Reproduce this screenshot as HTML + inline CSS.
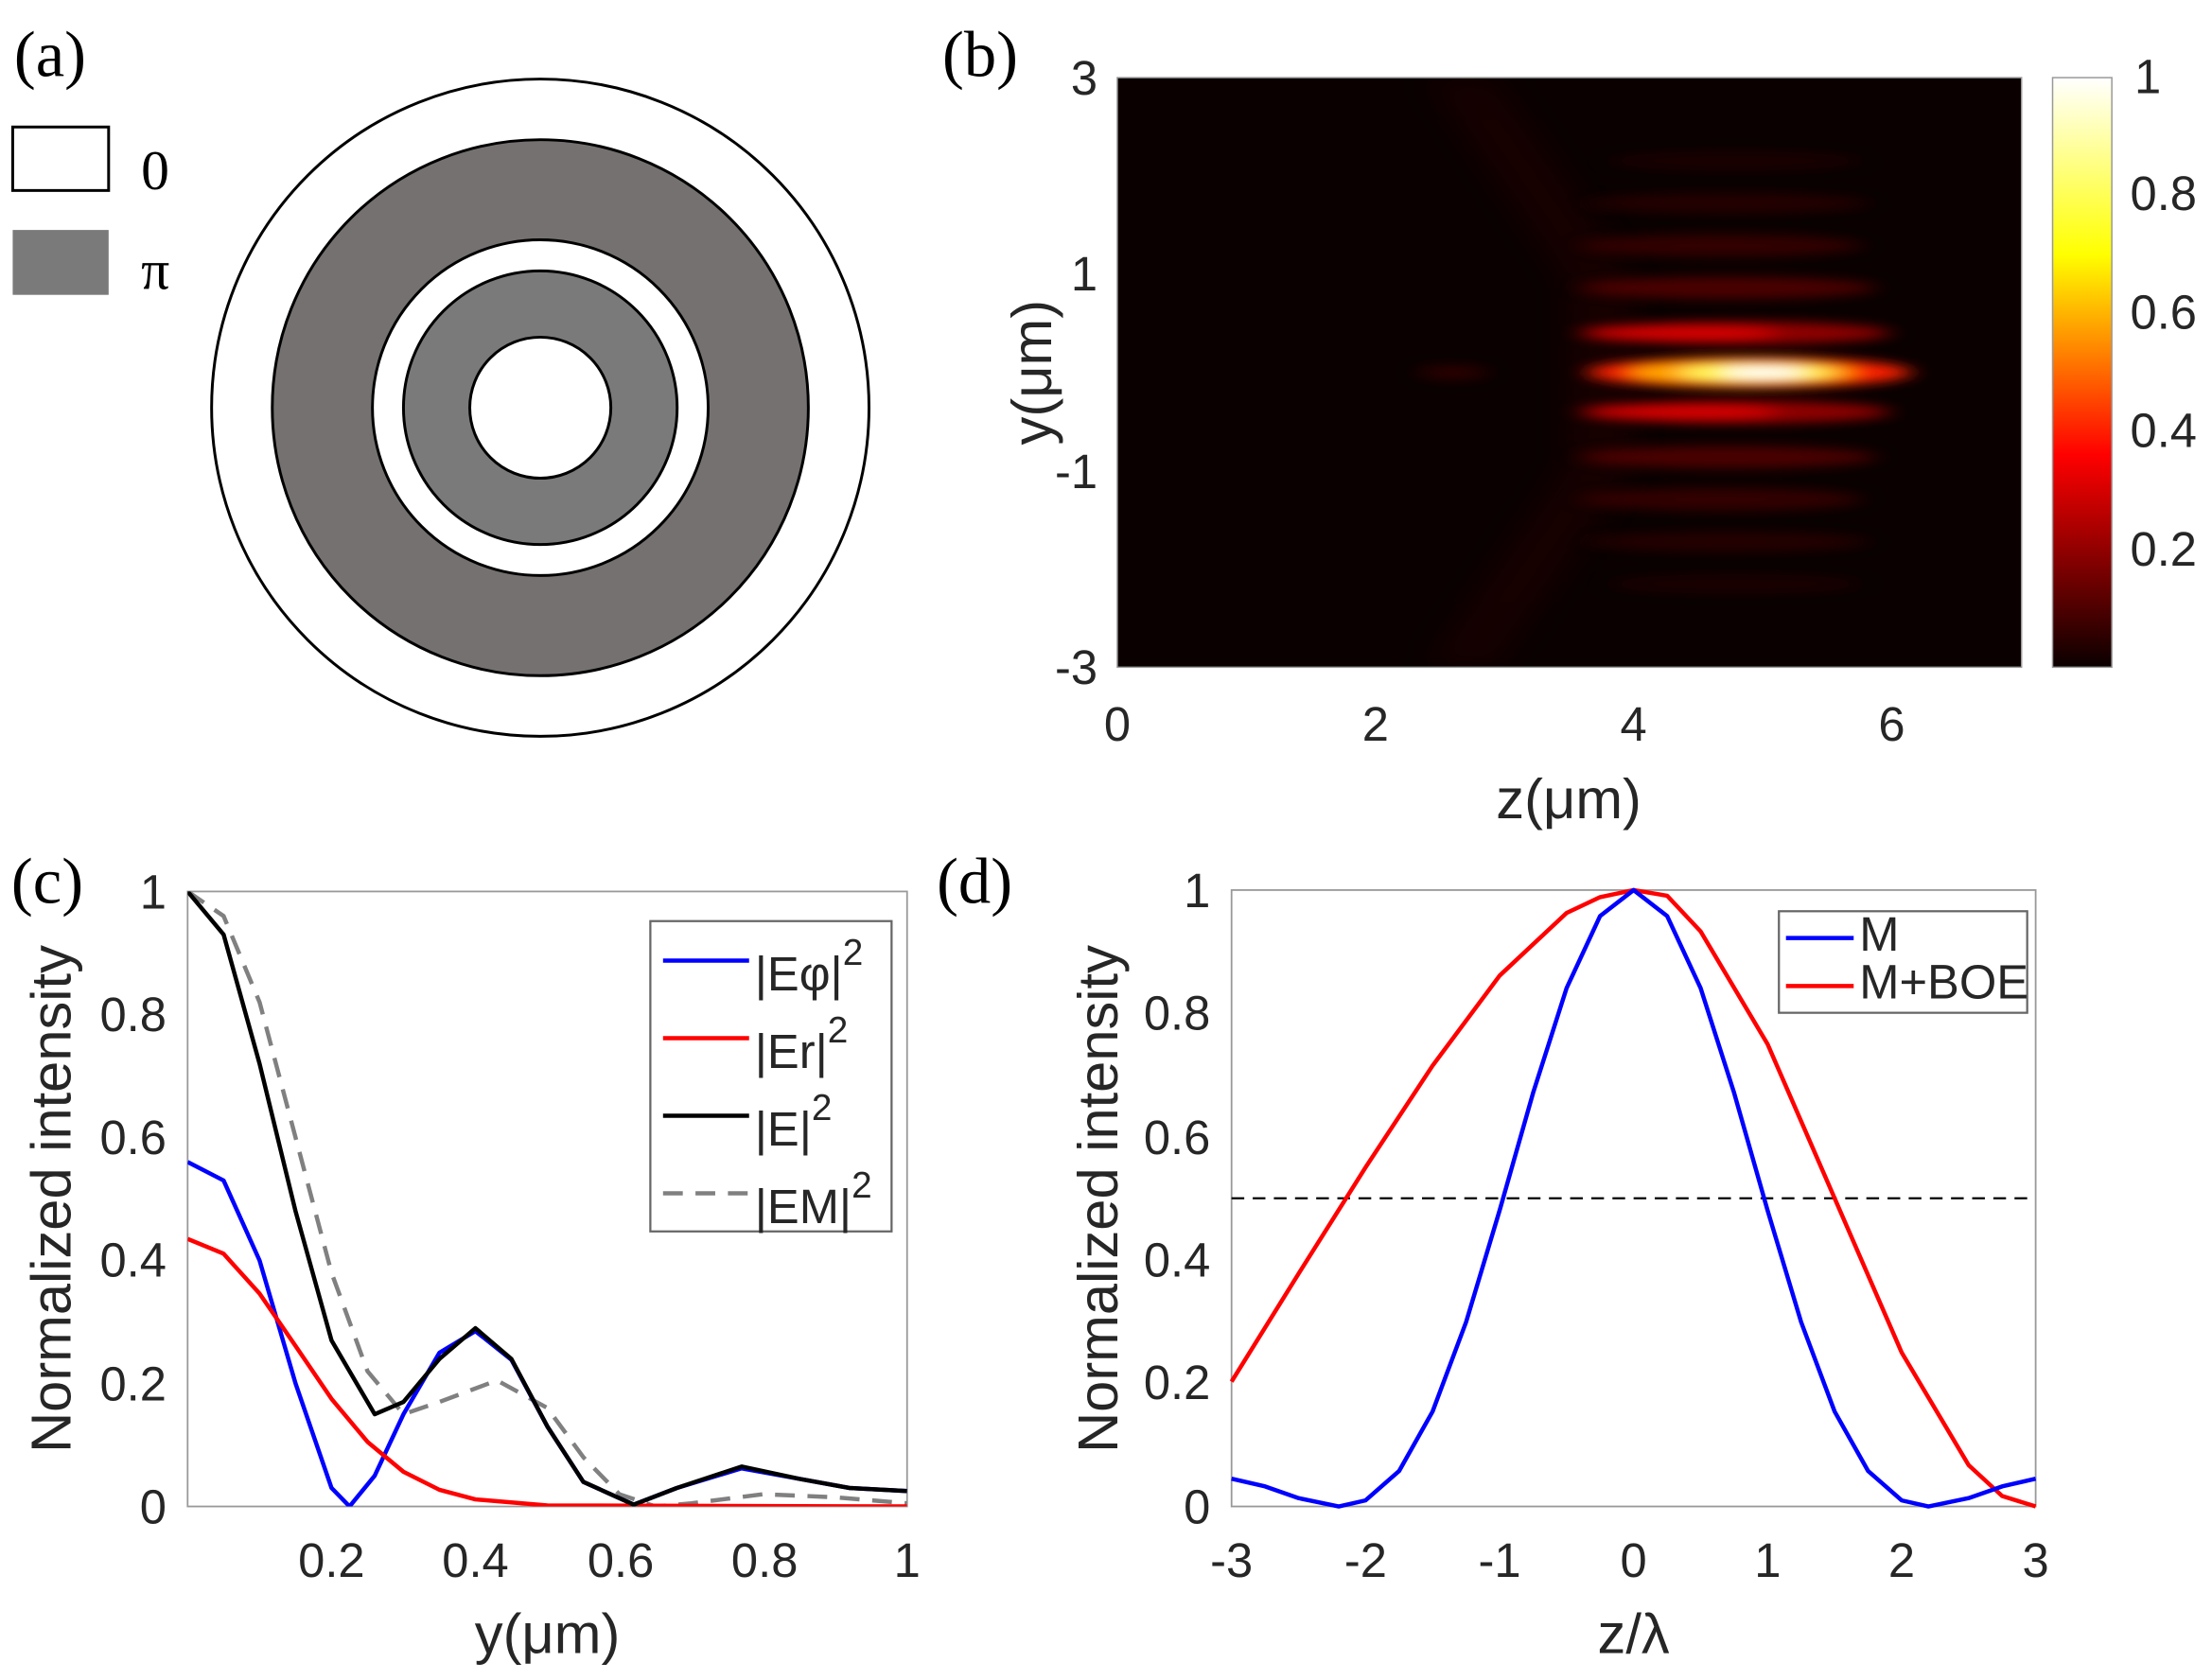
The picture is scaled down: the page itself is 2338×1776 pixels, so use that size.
<!DOCTYPE html>
<html><head><meta charset="utf-8">
<style>html,body{margin:0;padding:0;background:#fff}svg{display:block}
.t{font-family:"Liberation Sans",sans-serif;font-size:34px;fill:#262626}
.s{font-family:"Liberation Serif",serif;fill:#000}
</style></head><body>
<svg width="2338" height="1776" viewBox="0 0 1568 1191" xmlns="http://www.w3.org/2000/svg">
<defs>
<filter id="bl" x="-50%" y="-200%" width="200%" height="500%"><feGaussianBlur stdDeviation="8 4"/></filter>
<filter id="bl2" x="-50%" y="-50%" width="200%" height="200%"><feGaussianBlur stdDeviation="10"/></filter>
<linearGradient id="hot" x1="0" y1="1" x2="0" y2="0">
<stop offset="0" stop-color="#0a0000"/><stop offset="0.36" stop-color="#ff0000"/>
<stop offset="0.7" stop-color="#ffff00"/><stop offset="1" stop-color="#ffffff"/></linearGradient>
<clipPath id="cb"><rect x="792" y="55" width="641" height="418"/></clipPath>
<clipPath id="cc"><rect x="133" y="632" width="510" height="436"/></clipPath>
</defs>
<rect width="1568" height="1191" fill="#fff"/>
<!-- panel a -->
<text class="s" x="10" y="54" font-size="46">(a)</text>
<rect x="9" y="90" width="68" height="45" fill="#fff" stroke="#000" stroke-width="2"/>
<rect x="9" y="163" width="68" height="46" fill="#7a7a7a"/>
<text class="s" x="100" y="134" font-size="40">0</text>
<text class="s" x="100" y="205" font-size="40">π</text>
<circle cx="383" cy="289" r="233" fill="#fff" stroke="#000" stroke-width="2"/>
<circle cx="383" cy="289" r="190" fill="#767171" stroke="#000" stroke-width="2"/>
<circle cx="383" cy="289" r="119" fill="#fff" stroke="#000" stroke-width="2"/>
<circle cx="383" cy="289" r="97" fill="#7a7a7a" stroke="#000" stroke-width="2"/>
<circle cx="383" cy="289" r="50" fill="#fff" stroke="#000" stroke-width="2"/>
<!-- panel b -->
<text class="s" x="668" y="54" font-size="46">(b)</text>
<rect x="792" y="55" width="641" height="418" fill="#0a0000"/>
<g clip-path="url(#cb)">
<g filter="url(#bl2)" opacity="0.25">
<polygon points="1010,55 1060,55 1160,200 1160,330 1060,473 1010,473 1110,330 1110,200" fill="#3a0000"/>
</g>
<g filter="url(#bl)">
<ellipse cx="1230" cy="114" rx="90" ry="7" fill="#2a0000" opacity="0.45"/>
<ellipse cx="1230" cy="414" rx="90" ry="7" fill="#2a0000" opacity="0.45"/>
<ellipse cx="1225" cy="144" rx="100" ry="7" fill="#380000" opacity="0.55"/>
<ellipse cx="1225" cy="384" rx="100" ry="7" fill="#380000" opacity="0.55"/>
<ellipse cx="1220" cy="174" rx="100" ry="8" fill="#4a0000" opacity="0.65"/>
<ellipse cx="1220" cy="354" rx="100" ry="8" fill="#4a0000" opacity="0.65"/>
<ellipse cx="1225" cy="204" rx="105" ry="8" fill="#5a0000" opacity="0.8"/>
<ellipse cx="1225" cy="324" rx="105" ry="8" fill="#5a0000" opacity="0.8"/>
<ellipse cx="1235" cy="236" rx="105" ry="8" fill="#a00000" opacity="0.9"/>
<ellipse cx="1235" cy="292" rx="105" ry="8" fill="#a00000" opacity="0.9"/>
<ellipse cx="1190" cy="236" rx="70" ry="6" fill="#e00000" opacity="0.85"/>
<ellipse cx="1190" cy="292" rx="70" ry="6" fill="#e00000" opacity="0.85"/>
<ellipse cx="1030" cy="264" rx="25" ry="5" fill="#3a0000" opacity="0.7"/>
<ellipse cx="1240" cy="264" rx="115" ry="11" fill="#ff2000"/>
<ellipse cx="1235" cy="264" rx="80" ry="8" fill="#ffaa00"/>
<ellipse cx="1245" cy="264" rx="55" ry="6" fill="#ffff60"/>
<ellipse cx="1250" cy="264" rx="30" ry="4" fill="#ffffff"/>
</g>
</g>
<rect x="792" y="55" width="641" height="418" fill="none" stroke="#999" stroke-width="1"/>
<rect x="1455" y="55" width="42" height="418" fill="url(#hot)" stroke="#999" stroke-width="1"/>
<g class="t">
<text x="1513" y="66">1</text><text x="1510" y="149">0.8</text><text x="1510" y="233">0.6</text>
<text x="1510" y="317">0.4</text><text x="1510" y="401">0.2</text>
<g text-anchor="end"><text x="778" y="67">3</text><text x="778" y="206">1</text><text x="778" y="346">-1</text><text x="778" y="485">-3</text></g>
<g text-anchor="middle"><text x="792" y="525">0</text><text x="975" y="525">2</text><text x="1158" y="525">4</text><text x="1341" y="525">6</text></g>
<text x="1112" y="580" text-anchor="middle" font-size="40">z(μm)</text>
<text transform="translate(745,264) rotate(-90)" text-anchor="middle" font-size="40">y(μm)</text>
</g>
<!-- panel c -->
<text class="s" x="8" y="640" font-size="46">(c)</text>
<rect x="133" y="632" width="510" height="436" fill="#fff" stroke="#999" stroke-width="1.2"/>
<g clip-path="url(#cc)" fill="none" stroke-width="3" stroke-linejoin="round">
<polyline stroke="#808080" stroke-dasharray="14,9" points="133,632 158.5,649.4 184,710.5 209.5,806.4 235,902.3 260.5,972.1 286,1002.6 311.5,993.9 352.3,978.6 388,998.2 413.5,1033.1 439,1059.3 464.5,1068 490,1065.8 541,1059.3 592,1061.5 643,1065.8"/>
<polyline stroke="#0000ff" points="133,823.8 158.5,836.9 184,893.6 209.5,980.8 235,1054.9 247.8,1068 265.6,1046.2 286,1002.6 311.5,959 337,943.7 362.5,964 388,1011.3 413.5,1050.6 449.2,1066.7 479.8,1054.9 525.7,1041 566.5,1048.4 602.2,1054.9 643,1057.1"/>
<polyline stroke="#ff0000" points="133,878.3 158.5,888.8 184,917.1 209.5,954.2 235,991.7 260.5,1022.2 286,1043.4 311.5,1056.2 337,1063 388,1067.3 643,1068"/>
<polyline stroke="#000" points="133,632 158.5,662.5 184,754.1 209.5,858.7 235,950.3 265.6,1002.6 286,993.9 311.5,963.4 337,941.6 362.5,963.4 388,1011.3 413.5,1050.6 449.2,1066.7 479.8,1054.9 525.7,1039.7 566.5,1048.4 602.2,1054.9 643,1057.1"/>
</g>
<g class="t">
<g text-anchor="end"><text x="118" y="644">1</text><text x="118" y="731">0.8</text><text x="118" y="818">0.6</text><text x="118" y="905">0.4</text><text x="118" y="993">0.2</text><text x="118" y="1080">0</text></g>
<g text-anchor="middle"><text x="235" y="1118">0.2</text><text x="337" y="1118">0.4</text><text x="440" y="1118">0.6</text><text x="542" y="1118">0.8</text><text x="643" y="1118">1</text></g>
<text x="388" y="1172" text-anchor="middle" font-size="40">y(μm)</text>
<text transform="translate(50,850) rotate(-90)" text-anchor="middle" font-size="40">Normalized intensity</text>
</g>
<rect x="461" y="653" width="171" height="220" fill="#fff" stroke="#666" stroke-width="1.5"/>
<g stroke-width="3"><line x1="470" y1="681" x2="531" y2="681" stroke="#0000ff"/><line x1="470" y1="736" x2="531" y2="736" stroke="#ff0000"/>
<line x1="470" y1="791" x2="531" y2="791" stroke="#000"/><line x1="470" y1="846" x2="531" y2="846" stroke="#808080" stroke-dasharray="14,9"/></g>
<g class="t" font-size="32" fill="#000">
<text x="535" y="702">|Eφ|<tspan dy="-18" font-size="26">2</tspan></text>
<text x="535" y="757">|Er|<tspan dy="-18" font-size="26">2</tspan></text>
<text x="535" y="812">|E|<tspan dy="-18" font-size="26">2</tspan></text>
<text x="535" y="867">|EM|<tspan dy="-18" font-size="26">2</tspan></text>
</g>
<!-- panel d -->
<text class="s" x="664" y="640" font-size="46">(d)</text>
<rect x="873" y="631" width="570" height="437" fill="#fff" stroke="#999" stroke-width="1.2"/>
<line x1="873" y1="849.5" x2="1443" y2="849.5" stroke="#000" stroke-width="1.5" stroke-dasharray="9,6"/>
<g fill="none" stroke-width="3" stroke-linejoin="round">
<polyline stroke="#ff0000" points="873,979.5 920.5,903 968,827.6 1015.5,755.5 1063,691.7 1110.5,647.2 1134.25,636 1158,631 1181.75,635 1205.5,660.3 1253,740.3 1300.5,849.5 1348,958.8 1395.5,1038.7 1419.25,1060.6 1443,1068"/>
<polyline stroke="#0000ff" points="873,1048.3 896.75,1053.8 920.5,1062.1 949,1068 968,1063.7 991.75,1042.9 1015.5,1000.7 1039.25,937.3 1063,858.2 1086.75,774.8 1110.5,700.5 1134.25,649.4 1158,631 1181.75,649.4 1205.5,700.5 1229.25,774.8 1253,858.2 1276.75,937.3 1300.5,1000.7 1324.25,1042.9 1348,1063.7 1367,1068 1395.5,1062.1 1419.25,1053.8 1443,1048.3"/>
</g>
<g class="t">
<g text-anchor="end"><text x="858" y="643">1</text><text x="858" y="730">0.8</text><text x="858" y="818">0.6</text><text x="858" y="905">0.4</text><text x="858" y="992">0.2</text><text x="858" y="1080">0</text></g>
<g text-anchor="middle"><text x="873" y="1118">-3</text><text x="968" y="1118">-2</text><text x="1063" y="1118">-1</text><text x="1158" y="1118">0</text><text x="1253" y="1118">1</text><text x="1348" y="1118">2</text><text x="1443" y="1118">3</text></g>
<text x="1158" y="1172" text-anchor="middle" font-size="40">z/λ</text>
<text transform="translate(792,850) rotate(-90)" text-anchor="middle" font-size="40">Normalized intensity</text>
</g>
<rect x="1261" y="646" width="176" height="72" fill="#fff" stroke="#666" stroke-width="1.5"/>
<g stroke-width="3"><line x1="1266" y1="665" x2="1314" y2="665" stroke="#0000ff"/><line x1="1266" y1="699" x2="1314" y2="699" stroke="#ff0000"/></g>
<g class="t" font-size="24" fill="#000"><text x="1318" y="674">M</text><text x="1318" y="708">M+BOE</text></g>
</svg>
</body></html>
